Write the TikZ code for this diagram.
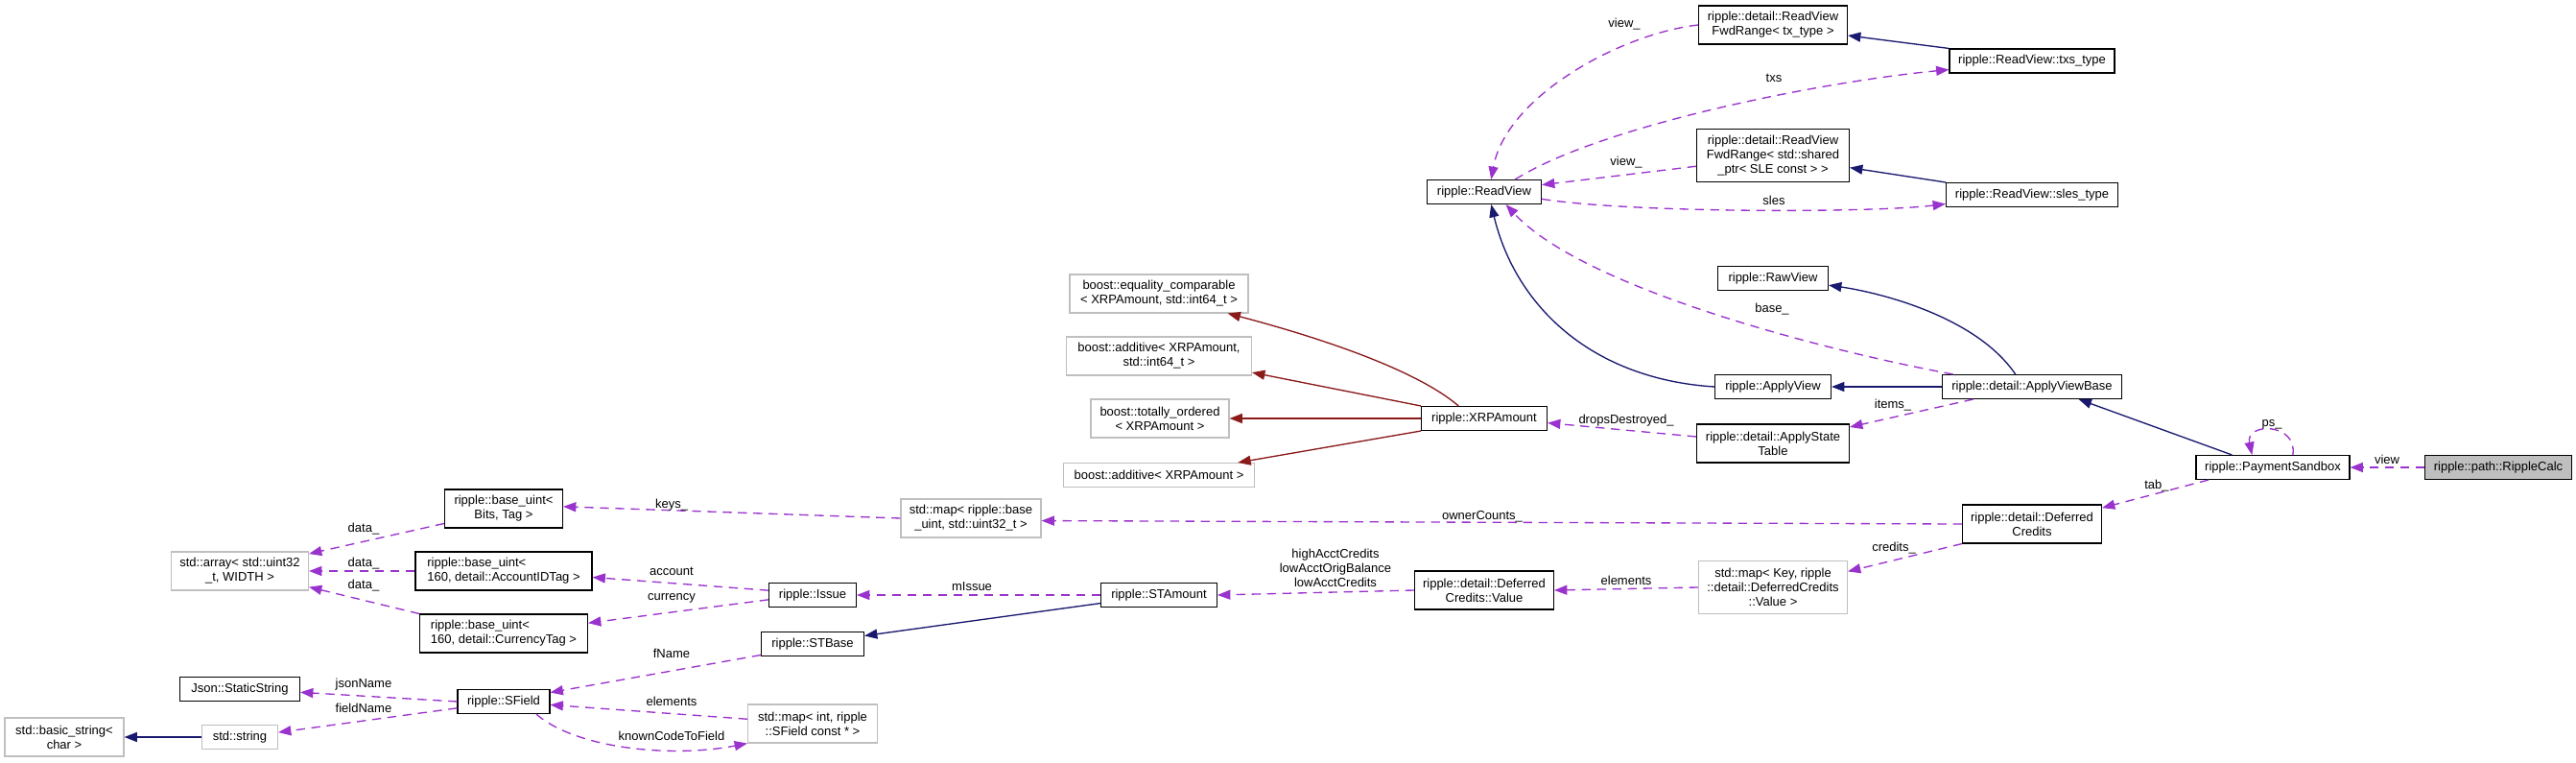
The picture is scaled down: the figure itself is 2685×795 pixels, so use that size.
\documentclass[tikz,border=0pt]{standalone}
\usepackage{fontspec}
\setmainfont{Liberation Sans}
\usetikzlibrary{arrows.meta}

\definecolor{inhcol}{HTML}{191970}
\definecolor{tmplcol}{HTML}{8B1A1A}
\definecolor{membcol}{HTML}{9A32CD}
\definecolor{extcol}{HTML}{BFBFBF}
\definecolor{mainfill}{HTML}{BFBFBF}

\tikzset{
  cls/.style={draw=black, fill=white, line width=0.8pt, inner sep=0pt, align=center},
  ext/.style={draw=extcol, fill=white, line width=0.8pt, inner sep=0pt, align=center},
  sz/.style 2 args={minimum width=#1*0.75pt, minimum height=#2*0.75pt},
  lbl/.style={inner sep=0pt, align=center},
  inherit/.style={color=inhcol, line width=1pt, -{Triangle[length=10pt,width=7.5pt]}},
  tmpl/.style={color=tmplcol, line width=1pt, -{Triangle[length=10pt,width=7.5pt]}},
  member/.style={color=membcol, line width=1pt, dash pattern=on 7pt off 5pt,
    -{Triangle[length=10pt,width=7.5pt]}},
}

\begin{document}
\begin{tikzpicture}[x=0.75pt, y=-0.75pt, font=\fontsize{9.75pt}{11.25pt}\selectfont]
  \fill[white] (0,0) rectangle (2685,795);
  \useasboundingbox (0,0) rectangle (2685,795);

  % read views
  \node[cls, sz={155}{40}] (fwdtx) at (1848,26) {ripple::detail::ReadView\\FwdRange< tx\_type >};
  \node[cls, sz={172}{25}] (txstype) at (2118,63.5) {ripple::ReadView::txs\_type};
  \node[cls, sz={119}{25}] (readview) at (1547,200) {ripple::ReadView};
  \node[cls, sz={159}{55}] (fwdsle) at (1848,162) {ripple::detail::ReadView\\FwdRange< std::shared\\\_ptr< SLE const > >};
  \node[cls, sz={179}{25}] (slestype) at (2118,203) {ripple::ReadView::sles\_type};
  \node[cls, sz={115}{25}] (rawview) at (1848,290) {ripple::RawView};
  \node[cls, sz={121}{25}] (applyview) at (1848,403) {ripple::ApplyView};
  \node[cls, sz={187}{25}] (applyviewbase) at (2118,403) {ripple::detail::ApplyViewBase};
  \node[cls, sz={159}{40}] (applystate) at (1848,462) {ripple::detail::ApplyState\\Table};
  \node[cls, sz={160}{25}] (paysandbox) at (2369,487) {ripple::PaymentSandbox};
  \node[cls, fill=mainfill, sz={153}{25}] (ripplecalc) at (2604,487) {ripple::path::RippleCalc};
  \node[cls, sz={145}{40}] (defcredits) at (2118,546) {ripple::detail::Deferred\\Credits};
  \node[ext, sz={155}{55}] (mapkey) at (1848,612) {std::map< Key, ripple\\::detail::DeferredCredits\\::Value >};
  \node[cls, sz={145}{40}] (dcvalue) at (1547,615) {ripple::detail::Deferred\\Credits::Value};

  % amounts
  \node[cls, sz={131}{25}] (xrpamount) at (1547,436) {ripple::XRPAmount};
  \node[ext, sz={186}{40}] (eqcomp) at (1208,306) {boost::equality\_comparable\\< XRPAmount, std::int64\_t >};
  \node[ext, sz={193}{40}] (addint) at (1208,371) {boost::additive< XRPAmount,\\std::int64\_t >};
  \node[ext, sz={144}{40}] (totord) at (1209,436) {boost::totally\_ordered\\< XRPAmount >};
  \node[ext, sz={199}{25}] (addxrp) at (1208,495) {boost::additive< XRPAmount >};
  \node[ext, sz={146}{40}] (mapbase) at (1012,540) {std::map< ripple::base\\\_uint, std::uint32\_t >};
  \node[cls, sz={121}{25}] (stamount) at (1208,620) {ripple::STAmount};
  \node[cls, sz={91}{25}] (issue) at (847,620) {ripple::Issue};
  \node[cls, sz={107}{25}] (stbase) at (847,671) {ripple::STBase};
  \node[ext, sz={135}{40}] (mapint) at (847,754) {std::map< int, ripple\\::SField const * >};

  % base types
  \node[cls, sz={123}{40}] (uintbits) at (525,530) {ripple::base\_uint<\\Bits, Tag >};
  \node[cls, sz={184}{40}, align=left] (uintacct) at (525,595) {ripple::base\_uint<\\ 160, detail::AccountIDTag >};
  \node[cls, sz={175}{40}, align=left] (uintcur) at (525,660) {ripple::base\_uint<\\ 160, detail::CurrencyTag >};
  \node[ext, sz={143}{40}] (stdarray) at (250,595) {std::array< std::uint32\\\_t, WIDTH >};
  \node[cls, sz={96}{25}] (sfield) at (525,731) {ripple::SField};
  \node[cls, sz={125}{25}] (jsonstr) at (250,718) {Json::StaticString};
  \node[ext, sz={79}{25}] (stdstring) at (250,768) {std::string};
  \node[ext, sz={124}{40}] (basicstr) at (67,768) {std::basic\_string<\\char >};

  % inheritance
  \draw[inherit] (txstype.north west) -- (fwdtx.-8);
  \draw[inherit] (slestype.north west) -- (fwdsle.-9);
  \draw[inherit] (applyviewbase.143) .. controls (2060,330) and (1960,305) .. (rawview.-7);
  \draw[inherit] (applyviewbase.west) -- (applyview.east);
  \draw[inherit] (applyview.west) .. controls (1660,395) and (1580,320) .. (readview.-61);
  \draw[inherit] (paysandbox.163) -- (applyviewbase.-15.5);
  \draw[inherit] (stamount.-172.5) -- (stbase.9.5);
  \draw[inherit] (stdstring.west) -- (basicstr.east);

  % template instances
  \draw[tmpl] (xrpamount.154) .. controls (1470,380) and (1350,345) .. (eqcomp.-16);
  \draw[tmpl] (xrpamount.north west) -- (addint.-10);
  \draw[tmpl] (xrpamount.west) -- (totord.east);
  \draw[tmpl] (xrpamount.south west) -- (addxrp.9.5);

  % members
  \draw[member] (fwdtx.west) .. controls (1690,35) and (1570,100) .. (readview.61);
  \draw[member] (readview.22) .. controls (1670,130) and (1900,85) .. (txstype.-174);
  \draw[member] (fwdsle.-172) -- (readview.7);
  \draw[member] (readview.-7) .. controls (1700,222) and (1950,222) .. (slestype.-174);
  \draw[member] (applyviewbase.171) .. controls (1900,365) and (1650,300) .. (readview.-30);
  \draw[member] (applyviewbase.-168) -- (applystate.12);
  \draw[member] (applystate.175) -- (xrpamount.-4);
  \draw[member] (paysandbox.32) .. controls (2395,440) and (2340,440) .. (paysandbox.149);
  \draw[member] (ripplecalc.west) -- (paysandbox.east);
  \draw[member] (paysandbox.-169) -- (defcredits.13);
  \draw[member] (defcredits.west) -- (mapbase.-2);
  \draw[member] (defcredits.south west) -- (mapkey.12);
  \draw[member] (mapkey.west) -- (dcvalue.east);
  \draw[member] (dcvalue.west) -- (stamount.east);
  \draw[member] (stamount.west) -- (issue.east);
  \draw[member] (mapbase.west) -- (uintbits.2);
  \draw[member] (uintbits.-166) -- (stdarray.14);
  \draw[member] (uintacct.west) -- (stdarray.east);
  \draw[member] (uintcur.north west) -- (stdarray.-13);
  \draw[member] (issue.174) -- (uintacct.-4);
  \draw[member] (issue.-174) -- (uintcur.7);
  \draw[member] (stbase.-168) -- (sfield.11);
  \draw[member] (mapint.176) -- (sfield.-4);
  \draw[member] (sfield.-21) .. controls (600,780) and (700,790) .. (mapint.south west);
  \draw[member] (sfield.west) -- (jsonstr.-3);
  \draw[member] (sfield.-172) -- (stdstring.7);

  % labels
  \node[lbl] (lviewtx) at (1693,25) {view\_};
  \node[lbl] (ltxs) at (1849,81) {txs};
  \node[lbl] (lviewsle) at (1695,169) {view\_};
  \node[lbl] (lsles) at (1849,209) {sles};
  \node[lbl] (lbase) at (1847,322) {base\_};
  \node[lbl] (litems) at (1973,422) {items\_};
  \node[lbl] (ldrops) at (1695,438) {dropsDestroyed\_};
  \node[lbl] (lps) at (2368,442) {ps\_};
  \node[lbl] (lview) at (2488,479) {view};
  \node[lbl] (ltab) at (2248,506) {tab\_};
  \node[lbl] (lowner) at (1545,538) {ownerCounts\_};
  \node[lbl] (lcredits) at (1974,571) {credits\_};
  \node[lbl] (lelemdc) at (1695,605) {elements};
  \node[lbl] (lacct) at (1392,592) {highAcctCredits\\lowAcctOrigBalance\\lowAcctCredits};
  \node[lbl] (lmissue) at (1013,611) {mIssue};
  \node[lbl] (lkeys) at (700,526) {keys\_};
  \node[lbl] (laccount) at (700,595) {account};
  \node[lbl] (lcurrency) at (700,623) {currency};
  \node[lbl] (lfname) at (700,681) {fName};
  \node[lbl] (lelemsf) at (700,731) {elements};
  \node[lbl] (lknown) at (700,767) {knownCodeToField};
  \node[lbl] (ldatabits) at (379,551) {data\_};
  \node[lbl] (ldataacct) at (379,587) {data\_};
  \node[lbl] (ldatacur) at (379,610) {data\_};
  \node[lbl] (ljson) at (379,713) {jsonName};
  \node[lbl] (lfieldname) at (379,738) {fieldName};
\end{tikzpicture}
\end{document}
